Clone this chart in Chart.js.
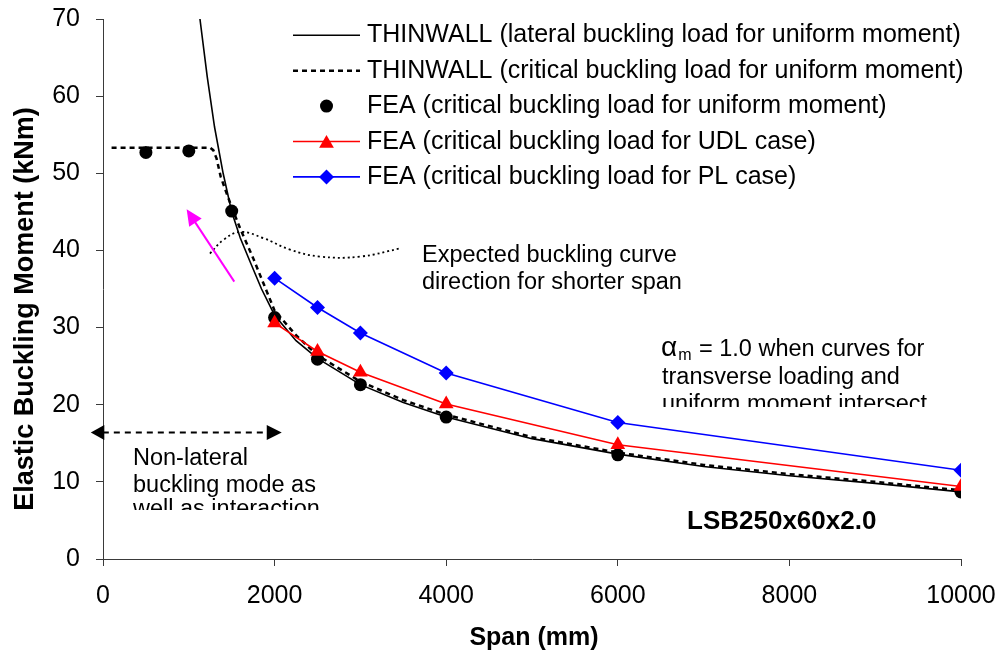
<!DOCTYPE html>
<html>
<head>
<meta charset="utf-8">
<script src="https://cdn.jsdelivr.net/npm/chart.js@4/dist/chart.umd.min.js"></script>
<style>
  html, body { margin: 0; padding: 0; background: #ffffff; overflow: hidden; }
  #wrap { width: 1003px; height: 655px; position: relative; }
</style>
</head>
<body>
<div id="wrap"><canvas id="chart"></canvas></div>
<script>
const FONT = '"Liberation Sans", Arial, Helvetica, sans-serif';

// THINWALL lateral buckling load (uniform moment)
const spanLateral   = [1130, 1215, 1300, 1400, 1500, 1600, 1712, 1848, 2000, 2250, 2500, 3000, 3500, 4000, 5000, 6000, 7000, 8000, 9000, 10000];
const momentLateral = [70.0, 62.5, 56.0, 50.0, 45.0, 41.6, 38.6, 35.0, 31.6, 28.3, 26.0, 22.6, 20.3, 18.4, 15.6, 13.6, 12.0, 10.8, 9.8, 8.7];

// THINWALL critical buckling load (uniform moment)
const spanCritical   = [100, 1250, 1285, 1324, 1371, 1441, 1500, 1600, 1750, 2000, 2250, 2500, 3000, 3500, 4000, 5000, 6000, 7000, 8000, 9000, 10000];
const momentCritical = [53.3, 53.3, 53.0, 51.9, 49.6, 47.4, 45.6, 42.8, 39.0, 32.2, 29.0, 26.4, 23.0, 20.6, 18.7, 15.8, 13.8, 12.2, 11.0, 10.0, 8.9];

// FEA critical buckling load (uniform moment)
const spanFeaUniform   = [500, 1000, 1500, 2000, 2500, 3000, 4000, 6000, 10000];
const momentFeaUniform = [52.7, 52.9, 45.1, 31.3, 25.9, 22.6, 18.4, 13.5, 8.7];

// FEA critical buckling load (UDL)
const spanFeaUdl   = [2000, 2500, 3000, 4000, 6000, 10000];
const momentFeaUdl = [30.6, 26.9, 24.2, 20.1, 14.8, 9.4];

// FEA critical buckling load (PL)
const spanFeaPl   = [2000, 2500, 3000, 4000, 6000, 10000];
const momentFeaPl = [36.4, 32.6, 29.3, 24.1, 17.7, 11.5];

// Sketch of the expected buckling curve for shorter spans
const spanExpected   = [1247, 1402, 1597, 1868, 2179, 2529, 2995, 3481];
const momentExpected = [39.6, 41.35, 42.4, 41.6, 40.1, 39.2, 39.2, 40.3];

const xTicks = [0, 2000, 4000, 6000, 8000, 10000];
const yTicks = [0, 10, 20, 30, 40, 50, 60, 70];

const legendLabels = [
  'THINWALL (lateral buckling load for uniform moment)',
  'THINWALL (critical buckling load for uniform moment)',
  'FEA (critical buckling load for uniform moment)',
  'FEA (critical buckling load for UDL case)',
  'FEA (critical buckling load for PL case)'
];

const toPoints = (xs, ys) => xs.map((v, i) => ({ x: v, y: ys[i] }));

function drawMarker(ctx, style, x, y, r, color) {
  ctx.save();
  ctx.fillStyle = color;
  ctx.beginPath();
  if (style === 'circle') {
    ctx.arc(x, y, r, 0, Math.PI * 2);
  } else if (style === 'triangle') {
    ctx.moveTo(x, y - r);
    ctx.lineTo(x + r * Math.sin(Math.PI / 3), y + r / 2);
    ctx.lineTo(x - r * Math.sin(Math.PI / 3), y + r / 2);
    ctx.closePath();
  } else if (style === 'rectRot') {
    ctx.moveTo(x - r, y);
    ctx.lineTo(x, y - r);
    ctx.lineTo(x + r, y);
    ctx.lineTo(x, y + r);
    ctx.closePath();
  }
  ctx.fill();
  ctx.restore();
}

function arrowHead(ctx, tipX, tipY, fromX, fromY, len, half) {
  const a = Math.atan2(tipY - fromY, tipX - fromX);
  const bx = tipX - len * Math.cos(a), by = tipY - len * Math.sin(a);
  ctx.beginPath();
  ctx.moveTo(tipX, tipY);
  ctx.lineTo(bx + half * Math.sin(a), by - half * Math.cos(a));
  ctx.lineTo(bx - half * Math.sin(a), by + half * Math.cos(a));
  ctx.closePath();
  ctx.fill();
}

// Legend, notes, arrows and axis titles drawn over the plot
const notesPlugin = {
  id: 'notes',
  afterDraw(chart) {
    const { ctx } = chart;
    const xs = chart.scales.x, ys = chart.scales.y;
    const px = v => xs.getPixelForValue(v);
    const py = v => ys.getPixelForValue(v);
    const ds = chart.data.datasets;

    ctx.save();

    // legend
    const legX0 = 293, legX1 = 360, legText = 367, legBase = 42.3, legStep = 35.4;
    ctx.font = '25px ' + FONT;
    ctx.textBaseline = 'alphabetic';
    ctx.textAlign = 'left';
    for (let i = 0; i < 5; i++) {
      const d = ds[i];
      const base = legBase + i * legStep;
      const cy = base - 7;
      if (d.showLine !== false) {
        ctx.save();
        ctx.strokeStyle = d.borderColor;
        ctx.lineWidth = d.borderWidth;
        ctx.setLineDash(d.borderDash || []);
        ctx.beginPath();
        ctx.moveTo(legX0, cy);
        ctx.lineTo(legX1, cy);
        ctx.stroke();
        ctx.restore();
      }
      if (d.pointRadius > 0) {
        drawMarker(ctx, d.pointStyle, (legX0 + legX1) / 2, d.pointStyle === 'triangle' ? cy + 2 : cy, d.pointRadius, d.pointBackgroundColor);
      }
      ctx.fillStyle = '#000';
      ctx.fillText(legendLabels[i], legText, base);
    }

    // "Expected buckling curve" note
    ctx.font = '23.5px ' + FONT;
    ctx.fillStyle = '#000';
    ctx.fillText('Expected buckling curve', 422, 262);
    ctx.fillText('direction for shorter span', 422, 288.5);

    // alpha_m note (bottom line clipped by its box)
    ctx.save();
    ctx.beginPath();
    ctx.rect(640, 320, 340, 407 - 320);
    ctx.clip();
    ctx.font = '28px ' + FONT;
    ctx.fillText('\u03b1', 661, 356);
    const aW = ctx.measureText('\u03b1').width;
    ctx.font = '16px ' + FONT;
    ctx.fillText('m', 661 + aW + 1, 360);
    ctx.font = '23.5px ' + FONT;
    ctx.fillText('= 1.0 when curves for', 699, 356);
    ctx.fillText('transverse loading and', 662, 383.5);
    ctx.fillText('uniform moment intersect', 662, 411);
    ctx.restore();

    // non-lateral mode note (bottom line clipped by its box)
    ctx.save();
    ctx.beginPath();
    ctx.rect(120, 440, 240, 510 - 440);
    ctx.clip();
    ctx.font = '23.5px ' + FONT;
    ctx.fillStyle = '#000';
    ctx.fillText('Non-lateral', 133, 465);
    ctx.fillText('buckling mode as', 133, 491.5);
    ctx.fillText('well as interaction', 133, 516);
    ctx.restore();

    // section label
    ctx.font = 'bold 26px ' + FONT;
    ctx.fillText('LSB250x60x2.0', 687, 529);

    // magenta arrow
    const mx0 = px(1530), my0 = py(35.95), mx1 = px(975), my1 = py(45.33);
    ctx.strokeStyle = '#FF00FF';
    ctx.fillStyle = '#FF00FF';
    ctx.lineWidth = 2;
    ctx.setLineDash([]);
    const ma = Math.atan2(my1 - my0, mx1 - mx0);
    ctx.beginPath();
    ctx.moveTo(mx0, my0);
    ctx.lineTo(mx1 - 12 * Math.cos(ma), my1 - 12 * Math.sin(ma));
    ctx.stroke();
    arrowHead(ctx, mx1, my1, mx0, my0, 16, 7.5);

    // double-headed dashed arrow
    const dy = py(16.4), dl = px(-142), dr = px(2083);
    ctx.strokeStyle = '#000';
    ctx.fillStyle = '#000';
    ctx.lineWidth = 2;
    ctx.setLineDash([6, 5]);
    ctx.beginPath();
    ctx.moveTo(dl + 12, dy);
    ctx.lineTo(dr - 12, dy);
    ctx.stroke();
    ctx.setLineDash([]);
    arrowHead(ctx, dl, dy, dr, dy, 13.5, 7.5);
    arrowHead(ctx, dr, dy, dl, dy, 15, 7.5);

    // axis titles
    ctx.fillStyle = '#000';
    ctx.font = 'bold 25px ' + FONT;
    ctx.textAlign = 'center';
    ctx.fillText('Span (mm)', 534, 645);
    ctx.save();
    ctx.translate(33, 309);
    ctx.rotate(-Math.PI / 2);
    ctx.font = 'bold 27px ' + FONT;
    ctx.fillText('Elastic Buckling Moment (kNm)', 0, 0);
    ctx.restore();

    ctx.restore();
  }
};

const AXIS = '#3a3a3a';

new Chart(document.getElementById('chart'), {
  type: 'scatter',
  data: {
    datasets: [
      {
        label: legendLabels[0],
        data: toPoints(spanLateral, momentLateral),
        showLine: true, borderColor: '#000', borderWidth: 1.6,
        pointRadius: 0, tension: 0, order: 4
      },
      {
        label: legendLabels[1],
        data: toPoints(spanCritical, momentCritical),
        showLine: true, borderColor: '#000', borderWidth: 2.5, borderDash: [5, 4],
        pointRadius: 0, tension: 0, order: 5
      },
      {
        label: legendLabels[2],
        data: toPoints(spanFeaUniform, momentFeaUniform),
        showLine: false, pointStyle: 'circle', pointRadius: 6.5,
        pointBackgroundColor: '#000', pointBorderWidth: 0, borderColor: '#000', order: 3
      },
      {
        label: legendLabels[3],
        data: toPoints(spanFeaUdl, momentFeaUdl),
        showLine: true, borderColor: '#FF0000', borderWidth: 1.6, tension: 0,
        pointStyle: 'triangle', pointRadius: 8.5, pointBackgroundColor: '#FF0000',
        pointBorderWidth: 0, order: 1
      },
      {
        label: legendLabels[4],
        data: toPoints(spanFeaPl, momentFeaPl),
        showLine: true, borderColor: '#0000FF', borderWidth: 1.6, tension: 0,
        pointStyle: 'rectRot', pointRadius: 7.5, pointBackgroundColor: '#0000FF',
        pointBorderWidth: 0, order: 0
      },
      {
        label: 'expected',
        data: toPoints(spanExpected, momentExpected),
        showLine: true, borderColor: '#000', borderWidth: 1.8, borderDash: [2, 3],
        pointRadius: 0, tension: 0.4, order: 6
      }
    ]
  },
  options: {
    responsive: true,
    maintainAspectRatio: false,
    animation: false,
    events: [],
    layout: { padding: { top: 19, right: 42, left: 0, bottom: 0 } },
    plugins: {
      legend: { display: false },
      tooltip: { enabled: false },
      title: { display: false }
    },
    scales: {
      x: {
        type: 'linear',
        min: 0, max: 10000,
        afterBuildTicks: s => { s.ticks = xTicks.map(v => ({ value: v })); },
        afterFit: s => { s.height = 96; s.paddingLeft = 0; s.paddingRight = 0; },
        ticks: { color: '#000', font: { family: FONT, size: 25 }, padding: 15, maxRotation: 0,
                 callback: v => String(v) },
        grid: { drawOnChartArea: false, drawTicks: true, tickLength: 7, color: AXIS, lineWidth: 1 },
        border: { color: AXIS, width: 1 }
      },
      y: {
        type: 'linear',
        min: 0, max: 70,
        afterBuildTicks: s => { s.ticks = yTicks.map(v => ({ value: v })); },
        afterFit: s => { s.width = 103; s.paddingTop = 0; s.paddingBottom = 0; },
        ticks: { color: '#000', font: { family: FONT, size: 25 }, padding: 16,
                 callback: v => String(v) },
        grid: { drawOnChartArea: false, drawTicks: true, tickLength: 7, color: AXIS, lineWidth: 1 },
        border: { color: AXIS, width: 1 }
      }
    }
  },
  plugins: [notesPlugin]
});
</script>
</body>
</html>
